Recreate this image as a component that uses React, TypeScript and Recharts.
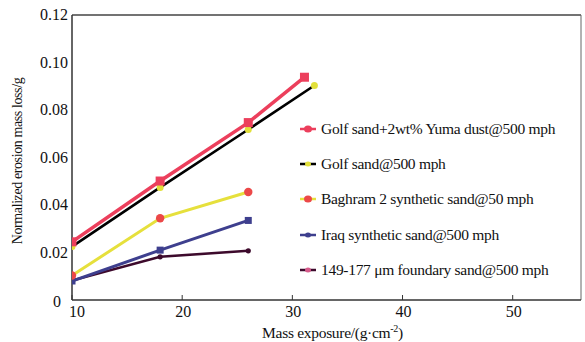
import { LineChart, Line, XAxis, YAxis, ReferenceLine } from 'recharts';

const exposureYuma = [10, 18, 26, 31.1];
const golfYuma = [0.0245, 0.0501, 0.0747, 0.0938];
const exposureGolf = [10, 18, 26, 32];
const golfSand = [0.0225, 0.0474, 0.0718, 0.0903];
const exposureShort = [10, 18, 26];
const baghram = [0.0103, 0.0344, 0.0455];
const iraq = [0.008, 0.021, 0.0335];
const foundary = [0.0082, 0.0182, 0.0207];

const xTicks = [10, 20, 30, 40, 50];
const yTicks = [0, 0.02, 0.04, 0.06, 0.08, 0.1, 0.12];

const FONT = '"Liberation Serif", "Times New Roman", serif';

const toPoints = (xs: number[], ys: number[]) => xs.map((x, i) => ({ x, y: ys[i] }));

type Series = {
    name: string;
    data: { x: number; y: number }[];
    stroke: string;
    width: number;
    marker: string;
    shape: 'square' | 'circle';
    size: number;
};

const series: Series[] = [
    { name: '149-177 \u03bcm foundary sand@500 mph', data: toPoints(exposureShort, foundary), stroke: '#3d0a2c', width: 2.5, marker: '#3d0a2c', shape: 'circle', size: 2.6 },
    { name: 'Iraq synthetic sand@500 mph', data: toPoints(exposureShort, iraq), stroke: '#3e3f8e', width: 3, marker: '#3e3f8e', shape: 'square', size: 3.5 },
    { name: 'Baghram 2 synthetic sand@50 mph', data: toPoints(exposureShort, baghram), stroke: '#e6e03c', width: 3, marker: '#ec4848', shape: 'circle', size: 4.2 },
    { name: 'Golf sand@500 mph', data: toPoints(exposureGolf, golfSand), stroke: '#000000', width: 2.6, marker: '#e2e03a', shape: 'circle', size: 3.5 },
    { name: 'Golf sand+2wt% Yuma dust@500 mph', data: toPoints(exposureYuma, golfYuma), stroke: '#ec3f5c', width: 3.5, marker: '#ec3f5c', shape: 'square', size: 4.5 },
];

const makeDot = (s: Series) => (props: any) => {
    const { cx, cy, index } = props;
    if (cx == null || cy == null) return <g key={index} />;
    if (s.shape === 'square') {
        return <rect key={index} x={cx - s.size} y={cy - s.size} width={s.size * 2} height={s.size * 2} fill={s.marker} />;
    }
    return <circle key={index} cx={cx} cy={cy} r={s.size} fill={s.marker} />;
};

const XTick = (props: any) => {
    const { x, y, payload } = props;
    const first = payload.value === 10;
    return (
        <g>
            <line x1={x} y1={y} x2={x} y2={y - 5} stroke='#333' strokeWidth={1} />
            <text x={first ? x + 5 : x + 1} y={y + 17} textAnchor='middle' fontFamily={FONT} fontSize={16} fill='#111'>
                {payload.value}
            </text>
        </g>
    );
};

const YTick = (props: any) => {
    const { x, y, payload } = props;
    if (payload.value === 0) {
        return (
            <text x={x - 11} y={y + 7} textAnchor='end' fontFamily={FONT} fontSize={16} fill='#111'>0</text>
        );
    }
    return (
        <text x={x - 4} y={y + 5} textAnchor='end' fontFamily={FONT} fontSize={16} fill='#111'>
            {payload.value.toFixed(2)}
        </text>
    );
};

const XTitle = (props: any) => {
    const { viewBox } = props;
    return (
        <text x={viewBox.x + viewBox.width / 2 + 6} y={338} textAnchor='middle' fontFamily={FONT} fontSize={15.5} fill='#111' letterSpacing={-0.3}>
            Mass exposure/(g·cm<tspan dy={-6} fontSize={10}>-2</tspan><tspan dy={6}>)</tspan>
        </text>
    );
};

const YTitle = () => (
    <text x={0} y={0} transform='translate(22,161) rotate(-90)' textAnchor='middle' fontFamily={FONT} fontSize={14} fill='#111' letterSpacing={-0.4}>
        Normalized erosion mass loss/g
    </text>
);

const LegendIcon = ({ s }: { s: Series }) => (
    <svg width={18} height={12} style={{ marginRight: 4, flexShrink: 0 }}>
        <line x1={1} y1={6} x2={17} y2={6} stroke={s.stroke} strokeWidth={2.5} />
        <ellipse cx={9} cy={6} rx={s.size > 4 ? 4 : 3} ry={s.size > 4 ? 3.5 : 2.5} fill={s.shape === 'circle' && s.size < 3 ? '#d65a8a' : s.marker} />
    </svg>
);

export default function App() {
    const legendItems = [...series].reverse();
    return (
        <div style={{ position: 'relative', width: 585, height: 342, background: '#fff' }}>
            <style>{'body{margin:0}'}</style>
            <LineChart width={585} height={342} margin={{ top: 15, right: 4, left: 0, bottom: 0 }}>
                <XAxis
                    dataKey='x'
                    type='number'
                    domain={[10, 56.2]}
                    ticks={xTicks}
                    allowDataOverflow
                    height={42}
                    tickSize={0}
                    tickMargin={0}
                    tick={<XTick />}
                    axisLine={{ stroke: '#333', strokeWidth: 1.5 }}
                    label={<XTitle />}
                />
                <YAxis
                    type='number'
                    domain={[0, 0.12]}
                    ticks={yTicks}
                    width={72}
                    tickSize={0}
                    tickMargin={0}
                    tick={<YTick />}
                    axisLine={{ stroke: '#333', strokeWidth: 1.5 }}
                    label={<YTitle />}
                />
                <ReferenceLine y={0.12} stroke='#444' strokeWidth={1.5} />
                <ReferenceLine x={56.2} stroke='#666' strokeWidth={1} />
                {series.map((s) => (
                    <Line
                        key={s.name}
                        data={s.data}
                        dataKey='y'
                        type='linear'
                        stroke={s.stroke}
                        strokeWidth={s.width}
                        dot={makeDot(s)}
                        activeDot={false}
                        isAnimationActive={false}
                    />
                ))}
            </LineChart>
            <div style={{ position: 'absolute', left: 299, top: 111, fontFamily: FONT, fontSize: 15.5, color: '#111' }}>
                {legendItems.map((s) => (
                    <div key={s.name} style={{ display: 'flex', alignItems: 'center', height: 35.4, letterSpacing: -0.3, whiteSpace: 'nowrap' }}>
                        <LegendIcon s={s} />
                        <span>{s.name}</span>
                    </div>
                ))}
            </div>
        </div>
    );
}
